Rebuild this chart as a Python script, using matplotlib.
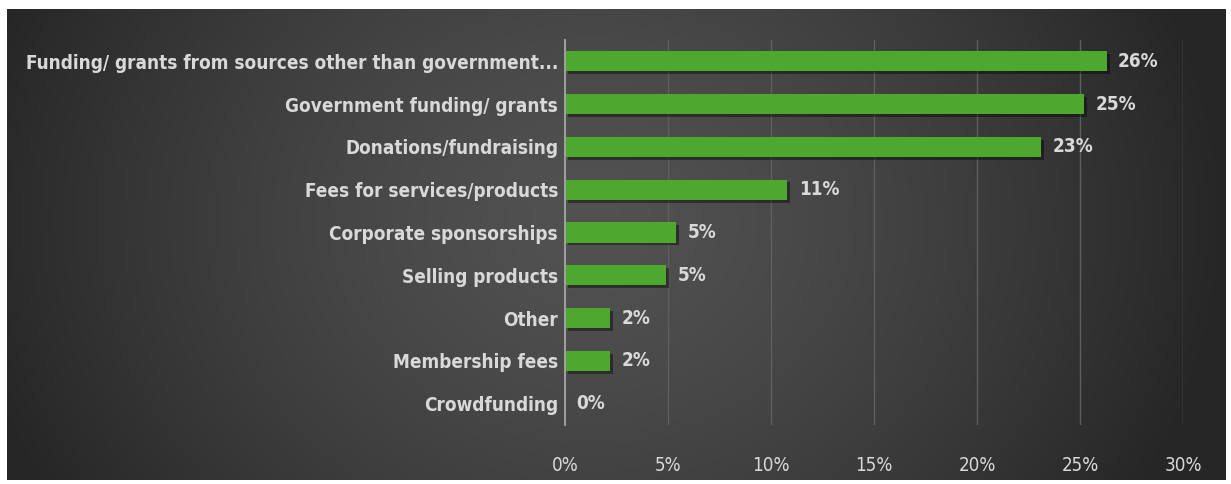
import numpy as np
import matplotlib.pyplot as plt
import matplotlib.patheffects as pe

# Funding sources and share of respondents (%)
categories = ["Funding/ grants from sources other than government...",
              "Government funding/ grants",
              "Donations/fundraising",
              "Fees for services/products",
              "Corporate sponsorships",
              "Selling products",
              "Other",
              "Membership fees",
              "Crowdfunding"]
shares = [26.3, 25.2, 23.1, 10.8, 5.4, 4.9, 2.2, 2.2, 0.0]
xticks = [0, 5, 10, 15, 20, 25, 30]

text_col = "#d9d9d9"
bar_col = "#4ea72e"
font = dict(family="DejaVu Sans", stretch="condensed")

fig = plt.figure(figsize=(12.31, 4.84), dpi=100)
fig.patch.set_facecolor("white")

# dark panel with radial gradient
W, H = 1231, 484
bg = fig.add_axes([7 / W, 4 / H, 1219 / W, 471 / H])
yy, xx = np.mgrid[0:1:300j, 0:1:700j]
r = np.sqrt((xx - 0.48) ** 2 + ((yy - 0.45) * 0.45) ** 2)
shade = 0.32 - 0.17 * np.clip(r / 0.52, 0, 1) ** 1.4
bg.imshow(np.dstack([shade] * 3), aspect="auto", extent=[0, 1, 0, 1], interpolation="bilinear")
bg.axis("off")

ax = fig.add_axes([565 / W, (484 - 425) / H, (1183 - 565) / W, (425 - 40) / H])
ax.set_facecolor("none")
y = np.arange(len(categories))
bars = ax.barh(y, shares, height=0.47, color=bar_col, zorder=3)
for b in bars:
    b.set_path_effects([pe.SimplePatchShadow(offset=(2, -2), shadow_rgbFace="black", alpha=0.4),
                        pe.Normal()])

for yi, v in zip(y, shares):
    ax.text(v + 0.55, yi, f"{v:.0f}%", va="center", ha="left", color=text_col,
            fontsize=13.6, fontweight="bold", **font)

ax.set_ylim(len(categories) - 0.5, -0.5)
ax.set_xlim(0, 30)
ax.set_yticks(y)
ax.set_yticklabels(categories, color=text_col, fontsize=13.6, fontweight="bold", **font)
ax.set_xticks(xticks)
ax.set_xticklabels([f"{t}%" for t in xticks], color=text_col, fontsize=13.5, **font)
ax.tick_params(axis="both", length=0)
ax.tick_params(axis="x", pad=22)
ax.tick_params(axis="y", pad=5)
ax.grid(axis="x", color="#5e5e5e", linewidth=1, zorder=0)
for s in ["top", "right", "bottom"]:
    ax.spines[s].set_visible(False)
ax.spines["left"].set_color("#a6a6a6")
ax.spines["left"].set_linewidth(1.3)
ax.spines["left"].set_zorder(4)

fig.savefig("out.png", dpi=100)
